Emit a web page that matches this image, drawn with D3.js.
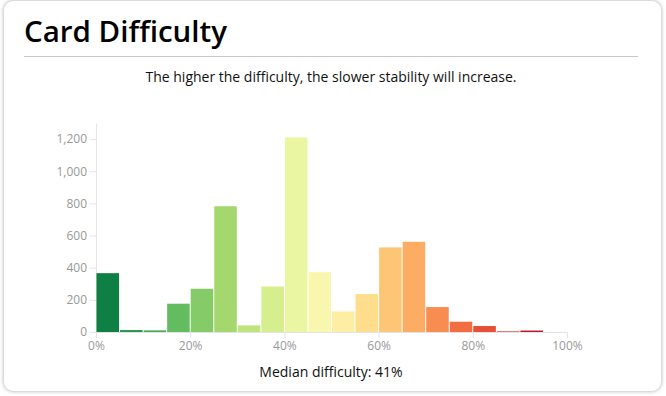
<!DOCTYPE html>
<html>
<head>
<meta charset="utf-8">
<script src="https://cdn.jsdelivr.net/npm/d3@7"></script>
<style>
  html, body { margin: 0; padding: 0; background: #fff; overflow: hidden; }
  body { width: 666px; height: 396px; font-family: "Open Sans", "Noto Sans", sans-serif; }
  .card {
    position: absolute; left: 4px; top: 1px; width: 657px; height: 390px;
    background: #fff; border-radius: 9px;
    box-shadow: 0 0 4px rgba(0,0,0,0.35);
  }
  svg { position: absolute; left: 0; top: 0; }
  .axis path, .axis line { stroke: #e4e4e4; }
  .axis text { fill: #999; font-size: 12px; font-family: "Open Sans", "Noto Sans", sans-serif; }
</style>
</head>
<body>
<div class="card"></div>
<svg id="chart" width="666" height="396"></svg>
<script>
// difficulty histogram, 5% bins
const binStarts = [0, 5, 10, 15, 20, 25, 30, 35, 40, 45, 50, 55, 60, 65, 70, 75, 80, 85, 90, 95];
const binCounts = [366, 12, 10, 176, 269, 782, 41, 283, 1210, 372, 128, 236, 526, 561, 155, 64, 37, 4, 9, 0];
const binWidth = 5;
const yTicks = [0, 200, 400, 600, 800, 1000, 1200];
const xTicks = [0, 20, 40, 60, 80, 100];

const titleText = 'Card Difficulty';
const subtitleText = 'The higher the difficulty, the slower stability will increase.';
const medianText = 'Median difficulty: 41%';

const svg = d3.select('#chart');

// header
svg.append('text')
    .attr('x', 24)
    .attr('y', 42)
    .attr('font-size', '29.5px')
    .attr('font-weight', 600)
    .attr('fill', '#000')
    .text(titleText);

svg.append('line')
    .attr('x1', 24).attr('x2', 638)
    .attr('y1', 56.5).attr('y2', 56.5)
    .attr('stroke', '#c8c8c8');

svg.append('text')
    .attr('x', 331)
    .attr('y', 82)
    .attr('text-anchor', 'middle')
    .attr('font-size', '14px')
    .attr('fill', '#111')
    .text(subtitleText);

// scales
const xScale = d3.scaleLinear()
    .domain([0, 100])
    .range([96, 567]);

const yScale = d3.scaleLinear()
    .domain([0, 1300])
    .range([332, 123]);

//colour goes green -> red, picked at the bin's upper edge
const colour = d3.scaleSequential(d3.interpolateRdYlGn).domain([100, 0]);

// axes
svg.append('g')
    .attr('class', 'axis')
    .attr('transform', `translate(0, ${yScale(0)})`)
    .call(d3.axisBottom(xScale).tickValues(xTicks).tickFormat(d => d + '%').tickSizeOuter(0));

svg.append('g')
    .attr('class', 'axis')
    .attr('transform', `translate(${xScale(0)}, 0)`)
    .call(d3.axisLeft(yScale).tickValues(yTicks).tickFormat(d3.format(',')).tickSizeOuter(0));

// bars
const bins = binStarts.map((x0, i) => ({ x0: x0, x1: x0 + binWidth, count: binCounts[i] }));

svg.append('g')
    .selectAll('rect')
    .data(bins)
    .enter()
    .append('rect')
        .attr('x', d => xScale(d.x0) + 0.5)
        .attr('width', d => xScale(d.x1) - xScale(d.x0) - 1)
        .attr('y', d => yScale(d.count))
        .attr('height', d => yScale(0) - yScale(d.count))
        .attr('fill', d => colour(d.x1));

// footer
svg.append('text')
    .attr('x', 331)
    .attr('y', 377)
    .attr('text-anchor', 'middle')
    .attr('font-size', '14px')
    .attr('fill', '#111')
    .text(medianText);
</script>
</body>
</html>
